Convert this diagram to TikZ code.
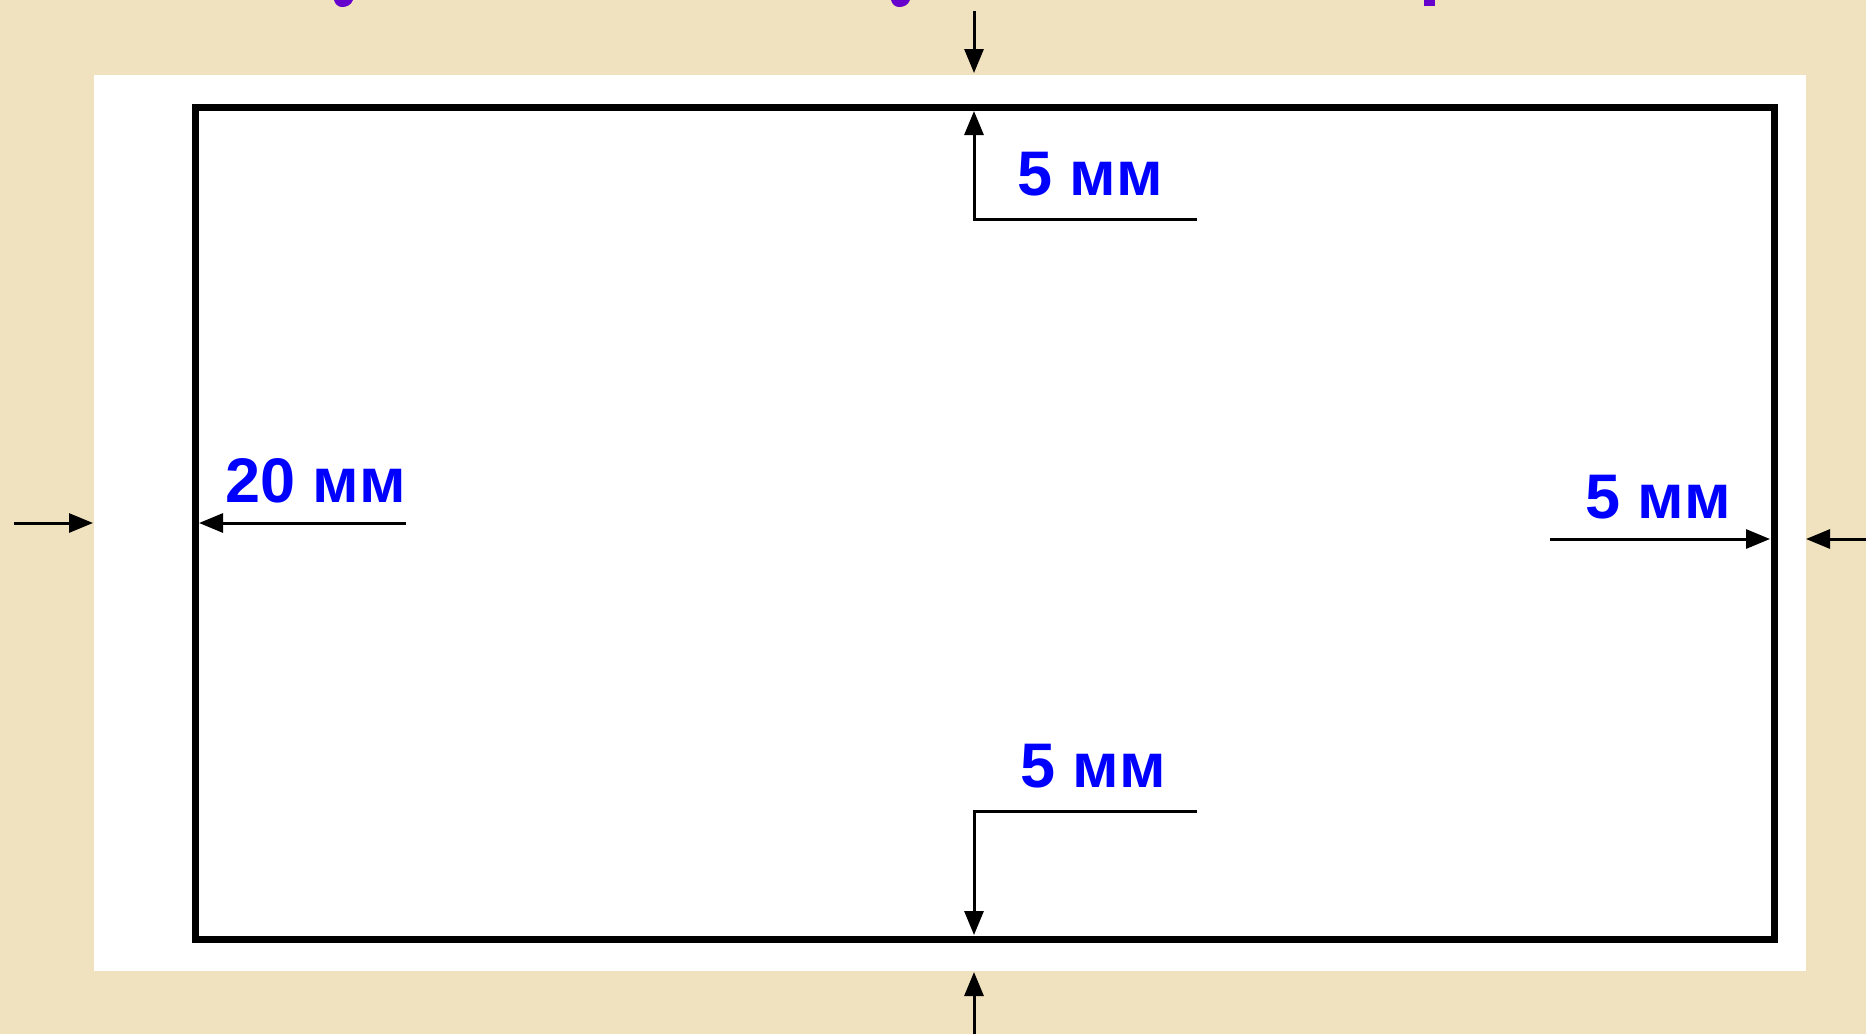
\documentclass[tikz,border=0pt]{standalone}
\usepackage{fontspec}
\setmainfont{Liberation Sans}
\usetikzlibrary{arrows.meta}
\definecolor{parch}{RGB}{240,226,190}
\definecolor{labelblue}{RGB}{0,0,255}
\definecolor{titlepurple}{RGB}{102,0,204}
\tikzset{
  dimarrow/.style={line width=3pt, -{Triangle[length=24pt,width=19pt]}},
  dimline/.style={line width=3pt},
  dimlabel/.style={anchor=base west, inner sep=0pt, text=labelblue,
    font=\fontsize{63}{70}\selectfont\bfseries},
  framebox/.style={line width=7pt, line join=miter},
}
\begin{document}
\begin{tikzpicture}[x=1pt,y=-1pt]
\useasboundingbox (0,0) rectangle (1866,1034);
\fill[parch] (0,0) rectangle (1866,1034);
\fill[white] (94,75) rectangle (1806,971);
% cut-off title fragments
\fill[titlepurple] (334,0) -- (353,0) .. controls (351,5) and (347,7) .. (342,7) .. controls (338,7) and (335,4) .. (334,0) -- cycle;
\fill[titlepurple] (891,0) -- (910,0) .. controls (908,5) and (904,7) .. (899,7) .. controls (895,7) and (892,4) .. (891,0) -- cycle;
\fill[titlepurple] (1424,0) rectangle (1435,6);
% frame
\draw[framebox] (195,107) rectangle (1774,939);
% coordinates
\coordinate (topS) at (974,11);
\coordinate (topT) at (974,73);
\coordinate (tinEnd) at (1197,219);
\coordinate (tinCorner) at (974,219);
\coordinate (tinT) at (974,111);
\coordinate (binEnd) at (1197,811);
\coordinate (binCorner) at (974,811);
\coordinate (binT) at (974,935);
\coordinate (botS) at (974,1034);
\coordinate (botT) at (974,972);
\coordinate (leftS) at (14,523);
\coordinate (leftT) at (93,523);
\coordinate (linS) at (406,523);
\coordinate (linT) at (199,523);
\coordinate (rinS) at (1550,539);
\coordinate (rinT) at (1770,539);
\coordinate (rightS) at (1866,539);
\coordinate (rightT) at (1806,539);
% arrows
\draw[dimarrow] (topS) -- (topT);
\draw[dimarrow] (tinEnd) -- (tinCorner) -- (tinT);
\draw[dimarrow] (binEnd) -- (binCorner) -- (binT);
\draw[dimarrow] (botS) -- (botT);
\draw[dimarrow] (leftS) -- (leftT);
\draw[dimarrow] (linS) -- (linT);
\draw[dimarrow] (rinS) -- (rinT);
\draw[dimarrow] (rightS) -- (rightT);
% labels
\node[dimlabel] (ltop) at (1017,195) {5 мм};
\node[dimlabel] (lleft) at (225,502) {20 мм};
\node[dimlabel] (lright) at (1585,518) {5 мм};
\node[dimlabel] (lbot) at (1020,787) {5 мм};
\end{tikzpicture}
\end{document}
